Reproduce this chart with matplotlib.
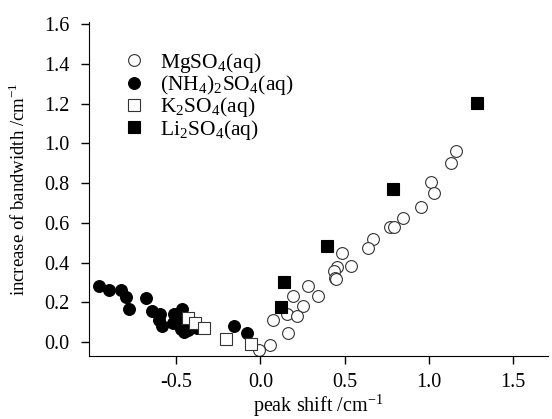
import numpy as np
from matplotlib import pyplot as plt

plt.rcParams['font.family'] = ['Liberation Serif', 'DejaVu Serif']
plt.rcParams['mathtext.fontset'] = 'custom'
plt.rcParams['mathtext.rm'] = 'Liberation Serif'
plt.rcParams['axes.unicode_minus'] = False

# MgSO4(aq) - open circles
mg_x = [1.162, 1.132, 1.011, 1.031, 0.954, 0.849, 0.770, 0.793, 0.670, 0.641,
        0.482, 0.538, 0.453, 0.437, 0.443, 0.449, 0.284, 0.195, 0.340, 0.254,
        0.156, 0.219, 0.076, 0.161, 0.056, -0.007]
mg_y = [0.962, 0.900, 0.804, 0.752, 0.680, 0.623, 0.578, 0.578, 0.517, 0.475,
        0.450, 0.386, 0.379, 0.359, 0.321, 0.316, 0.284, 0.232, 0.232, 0.183,
        0.141, 0.134, 0.111, 0.047, -0.015, -0.040]

# (NH4)2SO4(aq) - filled circles
nh_x = [-0.960, -0.898, -0.831, -0.799, -0.781, -0.680, -0.643, -0.597, -0.601, -0.587,
        -0.514, -0.468, -0.522, -0.498, -0.474, -0.429, -0.429, -0.379, -0.452, -0.156,
        -0.082]
nh_y = [0.284, 0.262, 0.262, 0.228, 0.166, 0.223, 0.158, 0.141, 0.111, 0.081,
        0.141, 0.166, 0.097, 0.111, 0.069, 0.060, 0.094, 0.074, 0.052, 0.081,
        0.047]

# K2SO4(aq) - open squares
k_x = [-0.429, -0.389, -0.334, -0.207, -0.058]
k_y = [0.124, 0.097, 0.072, 0.014, -0.007]

# Li2SO4(aq) - filled squares
li_x = [1.285, 0.785, 0.397, 0.141, 0.122]
li_y = [1.202, 0.769, 0.484, 0.301, 0.175]

fig = plt.figure(figsize=(5.52, 4.19), dpi=100)
ax = fig.add_axes([0.161, 0.150, 0.832, 0.797])

ms = 8.5
ax.plot(mg_x, mg_y, 'o', ms=ms, mfc='white', mec='#333333', mew=0.8,
        label=r'MgSO$_4$(aq)')
ax.plot(nh_x, nh_y, 'o', ms=ms, mfc='black', mec='black', mew=0.8,
        label=r'(NH$_4$)$_2$SO$_4$(aq)')
ax.plot(k_x, k_y, 's', ms=ms, mfc='white', mec='#333333', mew=0.8,
        label=r'K$_2$SO$_4$(aq)')
ax.plot(li_x, li_y, 's', ms=ms, mfc='black', mec='black', mew=0.8,
        label=r'Li$_2$SO$_4$(aq)')

ax.set_xlim(-1.02, 1.71)
ax.set_ylim(-0.07, 1.61)
ax.set_xticks([-0.5, 0.0, 0.5, 1.0, 1.5])
ax.set_yticks(np.arange(0, 1.61, 0.2))
ax.xaxis.set_major_formatter(plt.FormatStrFormatter('%.1f'))
ax.yaxis.set_major_formatter(plt.FormatStrFormatter('%.1f'))
ax.spines['top'].set_visible(False)
ax.spines['right'].set_visible(False)
ax.tick_params(direction='out', length=6, width=1, labelsize=14.5)
ax.tick_params(axis='y', pad=8)
ax.tick_params(axis='x', pad=6)

ax.set_xlabel(r'peak shift /cm$^{-1}$', fontsize=14.5, labelpad=0)
ax.set_ylabel(r'increase of bandwidth /cm$^{-1}$', fontsize=13.5, labelpad=11)

ax.legend(loc='upper left', bbox_to_anchor=(0.033, 0.94), frameon=False,
          fontsize=15.5, handletextpad=0.2, labelspacing=-0.08, borderaxespad=0)

plt.savefig('out.png', dpi=100)
